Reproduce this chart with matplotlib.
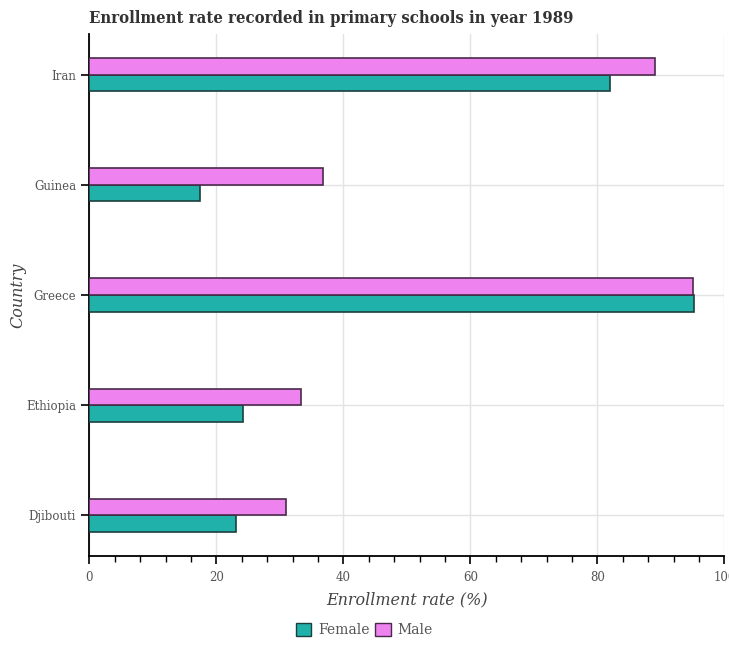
import matplotlib
matplotlib.use("Agg")
import matplotlib.pyplot as plt
import matplotlib.patches as mpatches
from matplotlib.ticker import MultipleLocator
import numpy as np

# データ
countries = ["Djibouti", "Ethiopia", "Greece", "Guinea", "Iran"]
female = [23.05, 24.25, 95.3, 17.5, 82.0]
male = [30.9, 33.3, 95.0, 36.8, 89.1]

title = "Enrollment rate recorded in primary schools in year 1989"
xlabel = "Enrollment rate (%)"
ylabel = "Country"

FEMALE_C = "#20B2AA"
MALE_C = "#EE82EE"
TEXT_C = "#555555"

plt.rcParams["font.family"] = ["DejaVu Serif"]

fig = plt.figure(figsize=(7.29, 6.5), dpi=100)
ax = fig.add_axes([0.1225, 0.1446, 0.8711, 0.8031])

y = np.arange(len(countries))
h = 0.15
ax.barh(y - h / 2, female, height=h, color=FEMALE_C, edgecolor="#1c3f3d",
        linewidth=1.2, zorder=3)
ax.barh(y + h / 2, male, height=h, color=MALE_C, edgecolor="#4a2a4a",
        linewidth=1.2, zorder=3)

ax.set_xlim(0, 100)
ax.set_ylim(-0.37, 4.37)
ax.set_yticks(y)
ax.set_yticklabels(countries)
ax.xaxis.set_major_locator(MultipleLocator(20))
ax.xaxis.set_minor_locator(MultipleLocator(4))

ax.grid(True, color="#e3e3e3", linewidth=1, zorder=0)
ax.set_axisbelow(True)
for s in ["top", "right"]:
    ax.spines[s].set_visible(False)
for s in ["left", "bottom"]:
    ax.spines[s].set_color("black")
    ax.spines[s].set_linewidth(1.3)

ax.tick_params(axis="both", which="major", length=6, width=1.2,
               colors="black", labelcolor=TEXT_C, labelsize=8.5)
ax.tick_params(axis="x", which="minor", length=4, width=1, colors="black")
ax.tick_params(axis="x", pad=5)

ax.set_xlabel(xlabel, fontsize=11.5, style="italic", color="#444444")
ax.set_ylabel(ylabel, fontsize=11.5, style="italic", color="#444444")
ax.xaxis.set_label_coords(0.5, -0.067)
ax.yaxis.set_label_coords(-0.0995, 0.5)
ax.set_title(title, loc="left", fontsize=12, fontweight="bold",
             fontstretch="condensed", color="#333333", pad=8)

handles = [
    mpatches.Patch(facecolor=FEMALE_C, edgecolor="#1c3f3d", label="Female"),
    mpatches.Patch(facecolor=MALE_C, edgecolor="#4a2a4a", label="Male"),
]
leg = fig.legend(handles=handles, loc="center", bbox_to_anchor=(0.5, 0.031),
                 ncol=2, frameon=False, fontsize=10, handlelength=1.1,
                 handleheight=1.1, handletextpad=0.5, columnspacing=0.4)
for t in leg.get_texts():
    t.set_color(TEXT_C)

fig.savefig("out.png", dpi=100)
